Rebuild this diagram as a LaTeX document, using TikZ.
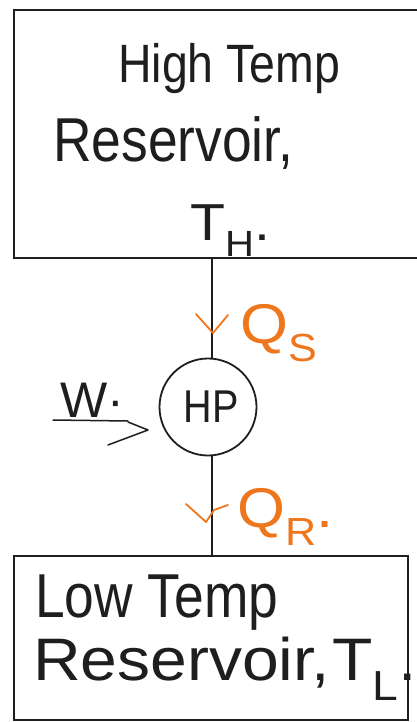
\documentclass[tikz,border=0pt]{standalone}
\usepackage{fontspec}
\setmainfont{Liberation Sans}
\newfontfamily\hand[FakeStretch=1.1]{Liberation Sans}
\newfontfamily\handn[FakeStretch=0.86]{Liberation Sans}
\newfontfamily\handw[FakeStretch=1.1]{Liberation Sans}
\definecolor{ink}{RGB}{30,30,30}
\definecolor{qorange}{RGB}{238,118,28}
\begin{document}
\begin{tikzpicture}[x=1pt,y=-1pt,
  box/.style={draw=ink,line width=1.5pt,rectangle,inner sep=0pt},
  txt/.style={anchor=base west,inner sep=0pt,text=ink},
  qtxt/.style={anchor=base west,inner sep=0pt,text=qorange,font=\hand\fontsize{56}{60}\selectfont},
  flowline/.style={draw=ink,line width=1.3pt},
  vmark/.pic={\draw[qorange,line width=1.8pt,line cap=round,line join=round] (-17,-19) -- (0,0) -- (15,-18);},
  vmarklow/.pic={\draw[qorange,line width=1.8pt,line cap=round,line join=round] (-20,-18) -- (0,0) -- (8,-12) -- (22,-17);},
  wtiphead/.pic={\draw[ink,line width=1.5pt,line cap=round,line join=round] (-20,-8) -- (0,0) -- (-40,15);}]
\useasboundingbox (0,0) rectangle (417,722);
\fill[white] (0,0) rectangle (417,722);
% boxes
\node[box,minimum width=412pt,minimum height=248pt] (top) at (220,134) {};
\node[box,minimum width=394pt,minimum height=164pt] (bot) at (211,638) {};
% heat pump
\node[circle,draw=ink,line width=1.8pt,minimum size=97pt,inner sep=0pt,
      font=\handn\fontsize{46}{48}\selectfont,text=ink] (hp) at (208,407) {\hspace{6pt}HP};
\coordinate (vx) at (212,407);
% texts
\node[txt,font=\handn\fontsize{54}{58}\selectfont] (l1) at (118,83) {High Temp};
\node[txt,font=\handn\fontsize{62}{66}\selectfont] (l2) at (53,162) {Reservoir,};
\node[txt,font=\hand\fontsize{52}{56}\selectfont] (l3) at (190,240) {T\textsubscript{H}.};
\node[txt,font=\handn\fontsize{62}{66}\selectfont] (l4) at (35,617) {Low Temp};
\node[txt,font=\handw\fontsize{60}{64}\selectfont] (l5) at (33,680) {Reservoir,\hspace{2pt}T\textsubscript{L}.};
% heat flows
\draw[flowline] (top.south -| vx) -- (hp.north -| vx);
\draw[flowline] (hp.south -| vx) -- (bot.north -| vx);
\coordinate (qstip) at (213,333);
\coordinate (qrtip) at (206,522);
\pic at (qstip) {vmark};
\pic at (qrtip) {vmarklow};
\node[qtxt] (qs) at (240,343) {Q\textsubscript{S}};
\node[qtxt] (qr) at (237,527) {Q\textsubscript{R}.};
% work input
\coordinate (win) at (53,420);
\coordinate (wend) at (128,421);
\coordinate (wtip) at (148,430);
\draw[ink,line width=1.5pt,line cap=round] (win) -- (wend);
\pic at (wtip) {wtiphead};
\node[txt,font=\setmainfont{Liberation Sans}\fontsize{50}{54}\selectfont] (w) at (60,417) {W·};
\end{tikzpicture}
\end{document}
